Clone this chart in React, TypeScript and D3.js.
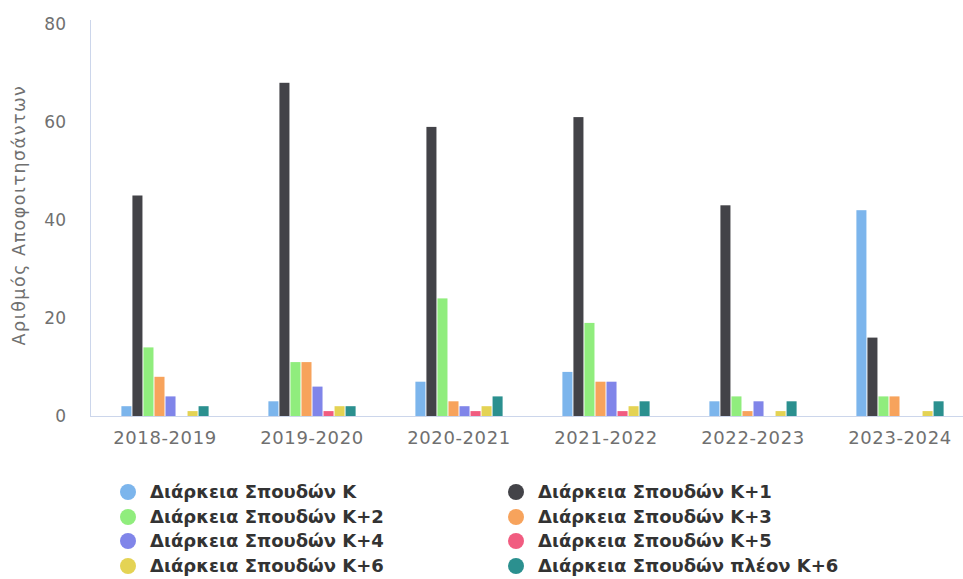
import React from "react";
import * as d3 from "d3";

const categories = ["2018-2019", "2019-2020", "2020-2021", "2021-2022", "2022-2023", "2023-2024"];
const seriesNames = [
  "Διάρκεια Σπουδών Κ",
  "Διάρκεια Σπουδών Κ+1",
  "Διάρκεια Σπουδών Κ+2",
  "Διάρκεια Σπουδών Κ+3",
  "Διάρκεια Σπουδών Κ+4",
  "Διάρκεια Σπουδών Κ+5",
  "Διάρκεια Σπουδών Κ+6",
  "Διάρκεια Σπουδών πλέον Κ+6",
];
const seriesColors = ["#7cb5ec", "#434348", "#90ed7d", "#f7a35c", "#8085e9", "#f15c80", "#e4d354", "#2b908f"];
// values per series, one per category
const valK = [2, 3, 7, 9, 3, 42];
const valK1 = [45, 68, 59, 61, 43, 16];
const valK2 = [14, 11, 24, 19, 4, 4];
const valK3 = [8, 11, 3, 7, 1, 4];
const valK4 = [4, 6, 2, 7, 3, 0];
const valK5 = [0, 1, 1, 1, 0, 0];
const valK6 = [1, 2, 2, 2, 1, 1];
const valMore = [2, 2, 4, 3, 3, 3];
const seriesValues = [valK, valK1, valK2, valK3, valK4, valK5, valK6, valMore];
const yTicks = [0, 20, 40, 60, 80];
const yTitle = "Αριθμός Αποφοιτησάντων";

const W = 963;
const H = 579;
const plotLeft = 91.5;
const plotRight = 973.5;
const plotTop = 24;
const plotBottom = 416;

export default function App() {
  const x0 = d3.scaleBand<string>().domain(categories).range([plotLeft, plotRight]).padding(0);
  const bw = x0.bandwidth();
  const x1 = d3
    .scaleBand<number>()
    .domain(d3.range(seriesNames.length))
    .range([bw * 0.2, bw * 0.8])
    .paddingInner(0.09)
    .paddingOuter(0.045);
  const y = d3.scaleLinear().domain([0, 80]).range([plotBottom, plotTop]);

  const font = "'DejaVu Sans', Verdana, sans-serif";
  const legendCols = [128, 516];
  const legendRowY = [492, 517, 541, 566];

  return (
    <svg width={W} height={H} style={{ position: "absolute", left: 0, top: 0, background: "#fff" }} fontFamily={font}>
      <rect x={0} y={0} width={W} height={H} fill="#fff" />
      {/* y axis line */}
      <line x1={90.5} x2={90.5} y1={20} y2={plotBottom} stroke="#ccd6eb" strokeWidth={1} />
      {/* x axis line */}
      <line x1={90} x2={W} y1={plotBottom + 0.5} y2={plotBottom + 0.5} stroke="#ccd6eb" strokeWidth={1} />
      {/* y ticks */}
      {yTicks.map((t) => (
        <text key={t} x={66} y={y(t)} dy="0.35em" textAnchor="end" fontSize={17} fill="#707070">
          {t}
        </text>
      ))}
      {/* y title */}
      <text
        transform={`translate(${25},${(plotTop + plotBottom) / 2 - 5}) rotate(-90)`}
        textAnchor="middle"
        fontSize={17.5}
        letterSpacing={1.5}
        fill="#707070"
      >
        {yTitle}
      </text>
      {/* bars */}
      {categories.map((c, ci) => (
        <g key={c} transform={`translate(${x0(c)},0)`}>
          {seriesValues.map((vals, si) =>
            vals[ci] > 0 ? (
              <rect
                key={si}
                x={x1(si)}
                y={y(vals[ci])}
                width={x1.bandwidth()}
                height={plotBottom - y(vals[ci])}
                fill={seriesColors[si]}
              />
            ) : null
          )}
        </g>
      ))}
      {/* x labels */}
      {categories.map((c) => (
        <text
          key={c}
          x={(x0(c) as number) + bw / 2}
          y={444}
          textAnchor="middle"
          fontSize={18}
          letterSpacing={0.6}
          fill="#707070"
        >
          {c}
        </text>
      ))}
      {/* legend */}
      {seriesNames.map((n, i) => {
        const col = i % 2;
        const row = Math.floor(i / 2);
        const cx = legendCols[col];
        const cy = legendRowY[row];
        return (
          <g key={n}>
            <circle cx={cx} cy={cy} r={8} fill={seriesColors[i]} />
            <text x={cx + 22} y={cy} dy="0.36em" fontSize={18} fontWeight="bold" fill="#333333">
              {n}
            </text>
          </g>
        );
      })}
    </svg>
  );
}
